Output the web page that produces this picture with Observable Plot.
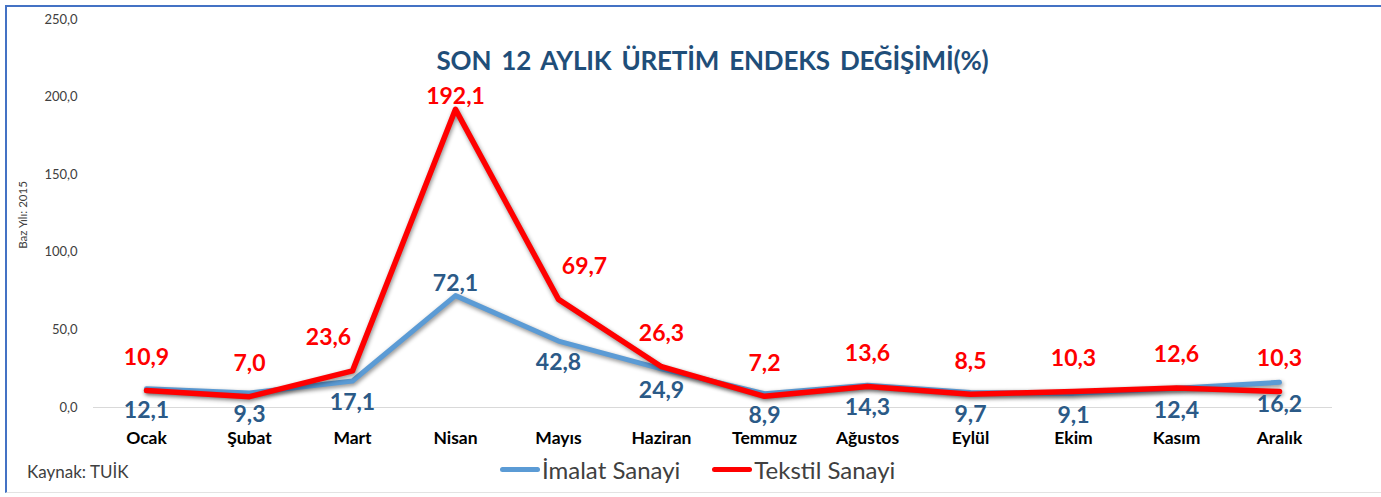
<!DOCTYPE html>
<html>
<head>
<meta charset="utf-8">
<script src="https://cdn.jsdelivr.net/npm/d3@7"></script>
<script src="https://cdn.jsdelivr.net/npm/@observablehq/plot@0.6"></script>
<style>
  html, body { margin: 0; padding: 0; background: #fff; }
  #wrap { position: relative; width: 1381px; height: 497px; overflow: hidden; font-family: Lato, "Open Sans", sans-serif; }
  #frame { position: absolute; left: 5px; top: 5px; width: 1380px; height: 488px; border-left: 2px solid #4472C4; border-top: 2px solid #4472C4; border-bottom: 1px solid #E3E3E3; box-sizing: border-box; }
  #chart { position: absolute; left: 0; top: 0; }
  #title { position: absolute; left: 0; width: 1425px; top: 44px; text-align: center; font-weight: bold; font-size: 26px; color: #1F4E79; word-spacing: 4px; letter-spacing: -0.2px; }
  #ylab { position: absolute; left: 22px; top: 215px; transform: translate(-50%, -50%) rotate(-90deg); font-size: 11.5px; color: #404040; white-space: nowrap; }
  #source { position: absolute; left: 27px; top: 461px; font-size: 17px; color: #404040; }
  #legend { position: absolute; left: 500px; top: 455px; font-size: 24px; color: #404040; display: flex; align-items: center; white-space: nowrap; }
  .sw { display: inline-block; width: 40px; height: 5px; border-radius: 3px; margin-right: 2px; }
  .item { display: flex; align-items: center; margin-right: 32px; }
  svg g[aria-label="line"] path { filter: drop-shadow(1px 2px 2px rgba(0,0,0,0.45)); }
</style>
</head>
<body>
<div id="wrap">
  <div id="frame"></div>
  <div id="chart"></div>
  <div id="title">SON 12 AYLIK ÜRETİM ENDEKS DEĞİŞİMİ(%)</div>
  <div id="ylab">Baz Yılı: 2015</div>
  <div id="source">Kaynak: TUİK</div>
  <div id="legend">
    <div class="item"><span class="sw" style="background:#5B9BD5"></span>İmalat Sanayi</div>
    <div class="item"><span class="sw" style="background:#FF0000"></span>Tekstil Sanayi</div>
  </div>
</div>
<script>
const months = ["Ocak","Şubat","Mart","Nisan","Mayıs","Haziran","Temmuz","Ağustos","Eylül","Ekim","Kasım","Aralık"];
const imalat = [12.1, 9.3, 17.1, 72.1, 42.8, 24.9, 8.9, 14.3, 9.7, 9.1, 12.4, 16.2];
const tekstil = [10.9, 7.0, 23.6, 192.1, 69.7, 26.3, 7.2, 13.6, 8.5, 10.3, 12.6, 10.3];
const yTicks = [0, 50, 100, 150, 200, 250];

const seriesNames = ["İmalat Sanayi", "Tekstil Sanayi"];
const rows = [];
months.forEach((m, i) => {
  rows.push({month: m, idx: i, series: seriesNames[0], value: imalat[i]});
  rows.push({month: m, idx: i, series: seriesNames[1], value: tekstil[i]});
});
const imRows = rows.filter(d => d.series === seriesNames[0]);
const teRows = rows.filter(d => d.series === seriesNames[1]);
const peakIdx = d3.maxIndex(tekstil);
const fmt = v => v.toFixed(1).replace(".", ",");
const lbl = {x: "month", y: "value", text: d => fmt(d.value), fontSize: 23, fontWeight: "bold"};

const chart = Plot.plot({
  width: 1381,
  height: 497,
  marginTop: 19,
  marginBottom: 90,
  marginLeft: 93,
  marginRight: 49,
  style: {background: "transparent", fontFamily: "Lato, 'Open Sans', sans-serif"},
  x: {type: "point", domain: months, padding: 0.5, label: null},
  y: {domain: [0, 250], label: null},
  marks: [
    Plot.ruleY([0], {stroke: "#D9D9D9", strokeWidth: 1}),
    Plot.axisY({ticks: yTicks, tickSize: 0, tickPadding: 16, tickFormat: fmt, fontSize: 13, fill: "#404040", label: null}),
    Plot.axisX({tickSize: 0, tickPadding: 24, fontSize: 17.5, fontWeight: "bold", fill: "#000", label: null}),
    Plot.line(imRows, {x: "month", y: "value", stroke: "#5B9BD5", strokeWidth: 5, strokeLinejoin: "round", strokeLinecap: "round"}),
    Plot.line(teRows, {x: "month", y: "value", stroke: "#FF0000", strokeWidth: 5.5, strokeLinejoin: "round", strokeLinecap: "round"}),
    Plot.text(imRows.filter(d => d.idx !== peakIdx), {...lbl, dy: 22, fill: "#2B5A87"}),
    Plot.text(imRows.filter(d => d.idx === peakIdx), {...lbl, dy: -12, fill: "#2B5A87"}),
    Plot.text(teRows.filter(d => Math.abs(d.idx - peakIdx) > 1), {...lbl, dy: -33, fill: "#FF0000"}),
    Plot.text(teRows.filter(d => d.idx === peakIdx - 1), {...lbl, dy: -33, dx: -24, fill: "#FF0000"}),
    Plot.text(teRows.filter(d => d.idx === peakIdx + 1), {...lbl, dy: -33, dx: 26, fill: "#FF0000"}),
    Plot.text(teRows.filter(d => d.idx === peakIdx), {...lbl, dy: -13, fill: "#FF0000"})
  ]
});
document.getElementById("chart").appendChild(chart);
</script>
</body>
</html>
